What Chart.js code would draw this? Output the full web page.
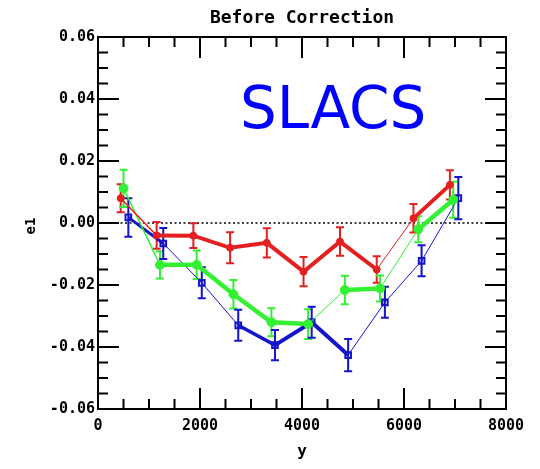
<!DOCTYPE html>
<html>
<head>
<meta charset="utf-8">
<script src="https://cdn.jsdelivr.net/npm/chart.js@4"></script>
<style>
html,body{margin:0;padding:0;background:#fff;}
#wrap{width:540px;height:469px;}
</style>
</head>
<body>
<div id="wrap"><canvas id="c" width="540" height="469"></canvas></div>
<script>
// ---- data ----
const chartTitle = "Before Correction";
const xTitle = "y";
const yTitle = "e1";
const overlayLabel = "SLACS";
const xTickValues = [0, 2000, 4000, 6000, 8000];
const yTickValues = [-0.06, -0.04, -0.02, 0.00, 0.02, 0.04, 0.06];

const redX   = [445, 1150, 1870, 2590, 3310, 4030, 4745, 5465, 6185, 6900];
const redY   = [0.0080, -0.0040, -0.0041, -0.0080, -0.0064, -0.0157, -0.0060, -0.0150, 0.0015, 0.0123];
const redErr = [0.0045, 0.0043, 0.0040, 0.0050, 0.0047, 0.0047, 0.0046, 0.0043, 0.0046, 0.0047];

const greenX   = [500, 1215, 1935, 2655, 3400, 4120, 4840, 5530, 6280, 6965];
const greenY   = [0.0112, -0.0135, -0.0135, -0.0230, -0.0320, -0.0326, -0.0216, -0.0211, -0.0020, 0.0075];
const greenErr = [0.0060, 0.0044, 0.0046, 0.0046, 0.0045, 0.0048, 0.0046, 0.0042, 0.0042, 0.0058];

const blueX   = [595, 1280, 2035, 2750, 3470, 4190, 4905, 5625, 6345, 7065];
const blueY   = [0.0018, -0.0066, -0.0193, -0.0330, -0.0394, -0.0320, -0.0426, -0.0256, -0.0122, 0.0080];
const blueErr = [0.0062, 0.0050, 0.0050, 0.0050, 0.0049, 0.0050, 0.0052, 0.0050, 0.0050, 0.0068];

// ---- styles ----
const RED = '#e41f1f', GREEN = '#33f033', BLUE = '#1414c8';
const redSeg   = [1.5, 4, 4, 4, 4, 4, 4, 1, 4];
const greenSeg = [1.5, 4.5, 4.5, 4.5, 4.5, 1, 4.5, 1, 4.5];
const blueSeg  = [3, 1, 1, 3.5, 4, 4, 1, 1, 1];

const pts = (xs, ys) => xs.map((x, i) => ({x: x, y: ys[i]}));

const FONT_MONO = "'DejaVu Sans Mono', 'Liberation Mono', monospace";

const decor = {
  id: 'decor',
  beforeDatasetsDraw(chart) {
    const ctx = chart.ctx, xs = chart.scales.x, ys = chart.scales.y;
    const a = chart.chartArea;
    ctx.save();
    // dotted zero line
    ctx.strokeStyle = '#000';
    ctx.lineWidth = 1.5;
    ctx.setLineDash([2, 2.5]);
    const y0 = ys.getPixelForValue(0);
    ctx.beginPath();
    ctx.moveTo(a.left, y0);
    ctx.lineTo(a.right, y0);
    ctx.stroke();
    ctx.setLineDash([]);
    // error bars
    chart.data.datasets.forEach((ds) => {
      ctx.strokeStyle = ds.borderColor;
      ctx.lineWidth = 2;
      ds.data.forEach((p, i) => {
        const e = ds.errors[i];
        const px = xs.getPixelForValue(p.x);
        const pt = ys.getPixelForValue(p.y + e);
        const pb = ys.getPixelForValue(p.y - e);
        ctx.beginPath();
        ctx.moveTo(px, pt); ctx.lineTo(px, pb);
        ctx.moveTo(px - 4, pt); ctx.lineTo(px + 4, pt);
        ctx.moveTo(px - 4, pb); ctx.lineTo(px + 4, pb);
        ctx.stroke();
      });
    });
    ctx.restore();
  },
  afterDraw(chart) {
    const ctx = chart.ctx, xs = chart.scales.x, ys = chart.scales.y;
    const a = chart.chartArea;
    ctx.save();
    // frame
    ctx.strokeStyle = '#000';
    ctx.lineWidth = 2;
    ctx.strokeRect(a.left, a.top, a.right - a.left, a.bottom - a.top);
    // x ticks (major every 2000, minor every 500)
    for (let v = 0; v <= 8000; v += 500) {
      const px = xs.getPixelForValue(v);
      const len = (v % 2000 === 0) ? 21 : 10;
      ctx.beginPath();
      ctx.moveTo(px, a.bottom); ctx.lineTo(px, a.bottom - len);
      ctx.moveTo(px, a.top); ctx.lineTo(px, a.top + len);
      ctx.stroke();
    }
    // y ticks (major every 0.02, minor every 0.005)
    for (let k = -12; k <= 12; k++) {
      const v = k * 0.005;
      const py = ys.getPixelForValue(v);
      const len = (k % 4 === 0) ? 21 : 10;
      ctx.beginPath();
      ctx.moveTo(a.left, py); ctx.lineTo(a.left + len, py);
      ctx.moveTo(a.right, py); ctx.lineTo(a.right - len, py);
      ctx.stroke();
    }
    // title
    ctx.fillStyle = '#000';
    ctx.font = "bold 18px " + FONT_MONO;
    ctx.textAlign = 'center';
    ctx.textBaseline = 'middle';
    ctx.fillText(chartTitle, (a.left + a.right) / 2, 18);
    // x title
    ctx.font = "bold 16px " + FONT_MONO;
    ctx.fillText(xTitle, (a.left + a.right) / 2, 452);
    // y title (rotated)
    ctx.save();
    ctx.translate(31, (a.top + a.bottom) / 2 + 3);
    ctx.rotate(-Math.PI / 2);
    ctx.font = "bold 14px " + FONT_MONO;
    ctx.fillText(yTitle, 0, 0);
    ctx.restore();
    // overlay label
    ctx.fillStyle = '#0000ff';
    ctx.font = "58px 'DejaVu Sans', sans-serif";
    ctx.textAlign = 'left';
    ctx.textBaseline = 'alphabetic';
    ctx.fillText(overlayLabel, 240, 128);
    ctx.restore();
  }
};

new Chart(document.getElementById('c'), {
  type: 'line',
  data: {
    datasets: [
      {
        label: 'red', data: pts(redX, redY), errors: redErr,
        borderColor: RED, backgroundColor: RED,
        borderWidth: 4, pointStyle: 'circle', pointRadius: 3.5, pointBorderWidth: 1,
        segment: { borderWidth: c => redSeg[c.p0DataIndex] }
      },
      {
        label: 'green', data: pts(greenX, greenY), errors: greenErr,
        borderColor: GREEN, backgroundColor: GREEN,
        borderWidth: 4, pointStyle: 'circle', pointRadius: 4.5, pointBorderWidth: 1,
        segment: { borderWidth: c => greenSeg[c.p0DataIndex] }
      },
      {
        label: 'blue', data: pts(blueX, blueY), errors: blueErr,
        borderColor: BLUE, backgroundColor: 'rgba(255,255,255,0)',
        borderWidth: 2, pointStyle: 'rect', pointRadius: 4, pointBorderWidth: 2,
        segment: { borderWidth: c => blueSeg[c.p0DataIndex] }
      }
    ]
  },
  options: {
    responsive: false,
    animation: false,
    devicePixelRatio: 1,
    layout: { padding: { left: 0, right: 34, top: 37, bottom: 0 } },
    plugins: { legend: { display: false }, tooltip: { enabled: false }, title: { display: false } },
    elements: { line: { tension: 0 } },
    scales: {
      x: {
        type: 'linear', min: 0, max: 8000,
        afterFit: s => { s.height = 60; },
        afterBuildTicks: s => { s.ticks = xTickValues.map(v => ({value: v})); },
        grid: { display: false, drawTicks: false },
        border: { display: false },
        ticks: {
          padding: 8, color: '#000',
          font: { family: FONT_MONO, size: 15, weight: 'bold' },
          maxRotation: 0, autoSkip: false,
          callback: v => String(v)
        }
      },
      y: {
        type: 'linear', min: -0.06, max: 0.06,
        afterFit: s => { s.width = 98; },
        afterBuildTicks: s => { s.ticks = yTickValues.map(v => ({value: v})); },
        grid: { display: false, drawTicks: false },
        border: { display: false },
        ticks: {
          padding: 3, color: '#000',
          font: { family: FONT_MONO, size: 15, weight: 'bold' },
          autoSkip: false,
          callback: v => (Math.abs(v) < 1e-9 ? 0 : v).toFixed(2)
        }
      }
    }
  },
  plugins: [decor]
});
</script>
</body>
</html>
